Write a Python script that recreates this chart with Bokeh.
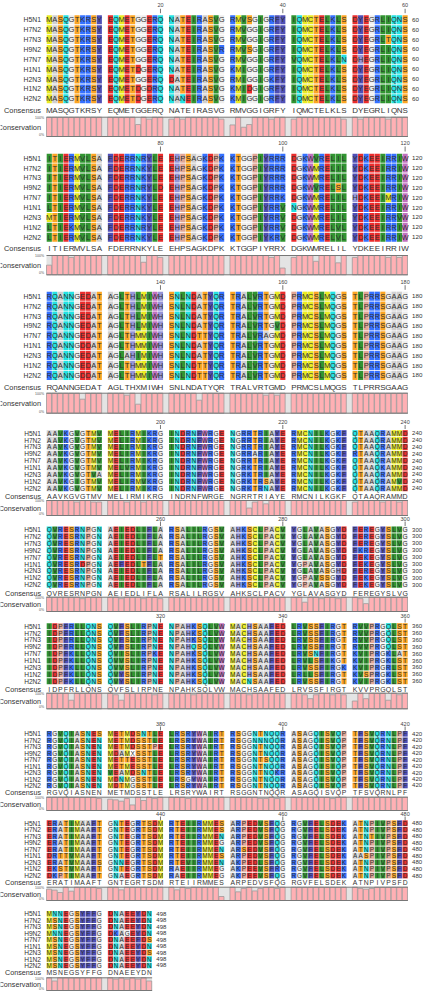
from bokeh.plotting import figure
from bokeh.models import Range1d
from bokeh.embed import file_html
from bokeh.resources import INLINE
from bokeh.core.properties import value

TAXA = ["H5N1", "H7N2", "H7N3", "H9N2", "H7N7", "H1N1", "H2N3", "H1N2", "H2N2"]

H5N1 = ("MASQGTKRSY EQMETGGERQ NATEIRASVG RMVSGIGRFY IQMCTELKLS DYEGRLIQNS "
        "ITIERMVLSA FDERRNRYLE EHPSAGKDPK KTGGPIYRRR DGKWVRELIL YDKEEIRRIW "
        "RQANNGEDAT AGLTHLMIWH SNLNDATYQR TRALVRTGMD PRMCSLMQGS TLPRRSGAAG "
        "AAVKGVGTMV MELIRMIKRG INDRNFWRGE NGRRTRIAYE RMCNILKGKF QTAAQRAMMD "
        "QVRESRNPGN AEIEDLIFLA RSALILRGSV AHKSCLPACV YGLAVASGYD FEREGYSLVG "
        "IDPFRLLQNS QVFSLIRPNE NPAHKSQLVW MACHSAAFED LRVSSFIRGT RVVPRGQLST "
        "RGVQIASNES METMDSNTLE LRSRYWAIRT RSGGNTNQQR ASAGQISVQP TFSVQRNLPF "
        "ERATIMAAFT GNTEGRTSDM RTEIIRMMES ARPEDVSFQG RGVFELSDEK ATNPIVPSFD "
        "MNNEGSYFFG DNAEEYDN")
H7N2 = ("MASQGTKRSY EQMETGGERQ NATEIRASVG RMVGGIGRFY IQMCTELKLS DYEGRLIQNS "
        "ITIERMVLSA FDERRNKYLE EHPSAGKDPK KTGGPIYRRR DGKWMRELIL YDKEEIRRIW "
        "RQANNGEDAT AGLTHLMIWH SNLNDATYQR TRALVRTGMD PRMCSLMQGS TLPRRSGAAG "
        "AAVKGVGTMV MELIRMIKRG INDRNFWRGE NGRRTRIAYE RMCNILKGKF QTAAQRAMMD "
        "QVRESRNPGN AEIEDLIFLA RSALILRGSV AHKSCLPACV YGLAVASGYD FEREGYSLVG "
        "IDPFRLLQNS QVFSLIRPNE NPAHKSQLVW MACHSAAFED LRVSSFIRGT RVVPRGQLST "
        "RGVQIASNEN METMDSSTLE LRSRYWAIRT RSGGNNNQQR ASAGQISVQP TFSVQRNLPF "
        "ERATIMAAFT GNTEGRTSDM RTEIIRMMES ARPEDVSFQG RGVFELSDEK ATNPIVPSFD "
        "MSNEGSYFFG DNAEEYDN")
H7N3 = ("MASQGTKRSY EQMETGGERQ NATEIRASVG RMVGGIGRFY IQMCTELKLS DYEGRLTQNS "
        "ITIERMVLSA FDERRNKYLE EHPSAGKDPK KTGGPIYRRR DGKWMRELIL YDKEEIRRIW "
        "RQANNGEDAT AGLTHLMIWH SNLNDATYQR TRALVRTGMD PRMCSLMQGS TLPRRSGAAG "
        "AAVKGVGTMV MELIRMIKRG INDRNFWRGE NGRRTRIAYE RMCNILKGKF QTAAQRAMMD "
        "QVRESRNPGN AEIEDLIFLA RSALILRGSV AHKSCLPACV YGLAVASGYD FEREGYSLVG "
        "IDPFRLLQNS QVFSLIRPNE NPAHKSQLVW MACHSAAFED LRVSSFIRGT RVVPRGQLST "
        "RGVQIASNEN METMDSSTPE LRSRYWAIRT RSGGNTNQQR ASAGQISVQP TFSVQRNLPF "
        "ERATIMAAFT GNTEGRTSDM RTEIIRMMEN ARPEDVSFQG RGVFELSDEK ATNTIVPSFD "
        "MSNEGSYFFG DNAEEYDN")
H9N2 = ("MASQGTKRSY EQMETGGERQ NATEIRASVR RMVSGIGRFY IQMCTELKLS DYEGRLIQNS "
        "ITIERMVLSA FDERRNRYLD EHPSAGKDPK KTGGPIYRRR DGKWVRELSL YDKEEIRRIW "
        "RQANNGEDAT AGLTHLMIWH SNLNDATYQR TRALVRTGVD PRMCSLMQGS TLPRRSGAAG "
        "AAVKGVGTMV MELIRMIKRG INDRNFWRGE NGRRARIAYE RMCNILKGKF RTAAQRAMMD "
        "QVRESRNPGN AEIEDLIFLA RSALILRGSV AHKSCLPACV YGLAVASGYD FKREGYSLVG "
        "IDPFRLLQNS QVFSLIRPNE NPAHQSQLVW MACHSAAFED LRVSSFIRGT RVVPRGQLST "
        "RGVQIASNEN MDAMXSSTLE LRSRYWAIRT RSGGNTNQQR ASAGQISVQP TFSVQRNLPF "
        "ERATIMAAFT GNTEGRTSDM RTEIIRMMEG ARPEDVSFQG RGVFELSDEK ATNPIVPSFD "
        "MNNEGSYFFG DKAGEYDN")
H7N7 = ("MASQGTKRSY EQMETGGERQ NATEIRASVG RMVGGIGRFY VQMCTELKLN DHEGRLIQNS "
        "ITIERMVLSA FDERRNKYLE EHPSAGKDPK KTGGPIYRRK DGKWMRELIL HDKEEIMRIW "
        "RQANNGEDAT AGLTHMMIWH SNLNDTTYQR TRALVRAGMD PRMCSLMQGS TLPRRSGAAG "
        "AAVKGVGTMV MELIRMIKRG INDRNFWRGE NGRRTRIAYE RMCNILKGKF QTAAQRAMMD "
        "QVRESRNPGN AEIEDLIFLT RSALILRGSV AHKSCLPACV YGLAVASGYD FEKEGYSLVG "
        "IDPFKLLQNS QVISLIRPKE NPAHKSQLVW MACHSAAFED LRVSNFIRGT KVIPRGKLAT "
        "RGVQIASNEN METTESSTLE LRSRYWAIRT RSGGNTSQQR ASAGQISVQP TFSVQRNLPF "
        "ERATIMAAFT GNTEGRTSDM RTEIIRMMEN ARSEDVSFQG RGVFELSDEK ATNPIVPSFD "
        "MSNEGSYFFG DNAEEFDS")
H1N1 = ("MASQGTKRSY EQMETDGERQ NATEIRASVG KMIGGIGRFY IQMCTELKLS DYEGRLIQNS "
        "LTIERMVLSA FDERRNKYLE EHPSAGKDPK KTGGPIYRRV NGKWMRELIL YDKEEIRRIW "
        "RQANNGDDAT AGLTHMMIWH SNLNDATYQR TRALVRTGMD PRMCSLMQGS TLPRRSGAAG "
        "AAVKGVGTMV MELVRMIKRG INDRNFWRGE NGRKTRIAYE RMCNILKGKF QTAAQKAMMD "
        "QVRESRDPGN AEFEDLTFLA RSALILRGSV AHKSCLPACV YGPAVASGYD FEKEGYSLVG "
        "IDPFKLLQNS QVVSLIRPNE NPAHKSQLVW MACHSAAFED LRVLSFIKGT KVIPRGKLST "
        "RGVQIASNEN METMESSTLE LRSRYWAIRT RSGGNTNQQR ASAGQISIQP TFSVQRNLPF "
        "DRTTVMAAFT GNTEGRTSDM RTEIIRMMES ARPEDVSFQG RGVFELSDEK AASPIVPSFD "
        "MSNEGSYFFG DNAEEYDN")
H2N3 = ("MASQGTKRSY EQMETGGERQ DATEIRASVG RMIGGIGKFY IQMCTELKLS DYEGRLIQNS "
        "MTIERMVLSA FDERRNKYLE EHPSAGKDPK KTGGPIYRRV DGKWMRELIL YDKEEIRRVW "
        "RQANNGEDAT AGLAHIMIWH SNLNDATYQR TRALVRTGMD PRMCSLMQGS TLPRRSGAAG "
        "AAVKGVGTVA MELIRMIKRG INDRNFWRGE NGRKTRIAYE RMCNILKGKF QTAAQRAMMD "
        "QVRESRNPGN AEIEDLIFLA RSALILRGSV AHKSCLPACV YGLAVASGHD FEREGYSLVG "
        "IDPFKLLQNS QVVSLIRPNE NPAHKSQLVW MACHSAAFED LRVSSFIRGK KVIPRGRLST "
        "RGVQIASNEN VEAMDSNTLE LRSRYWAIRT RSGGNTNQKR ASAGQISVQP TFSVQRNLPF "
        "ERATVMAAFS GNNEGRTSDM RTEVIRMMEN AKPEDLSFQG RGVFELSDEK ATNPIVPSFD "
        "MSNEGSYFFG DNAEEYDS")
H1N2 = ("MASQGTKRSY EQMETDGDRQ NATEIRASVG KMIDGIGRFY IQMCTELKLS DYEGRLIQNS "
        "LTIEKMVLSA FDERRNRYLE EHPSAGKDPK KTGGPIYRRV DGKWMRELVL YDKEEIRRIW "
        "RQANNGEDAT AGLTHMMIWH SNLNDTTYQR TRALVRTGMD PRMCSLMQGS TLPRRSGAAG "
        "AAVKGIGTMV MELIRMVKRG INDRNFWRGE NGRKTRSAYE RMCNILKGKF QTAAQRAMVD "
        "QVRESRNPGN AEIEDLIFLA RSALILRGSV AHKSCLPACV YGPAVSSGYD FEKEGYSLVG "
        "IDPFKLLQNS QVYSLIRPNE NPAHKSQLVW MACHSAAFED LRLLSFIRGT KVSPRGKLST "
        "RGVQIASNEN MDNMGSSTLE LRSGYWAIRT RSGGNTNQQR ASAGQISVQP TFSVQRNLPF "
        "EKSTVMAAFT GNTEGRTSDM RAEIIRMMEG AKPEEVSFRG RGVFELSDEK ATNPIVPSFD "
        "MSNEGSYFFG DNAEEYDN")
H2N2 = ("MASQGTKRSY EQMETDGERQ NANEIRASVG KMIGGIGRFY IQMCTELKLS DYEGRLIQNS "
        "LTIERMVLSA FDERRNKYLE EHPSAGKDPK KTGGPIYKRV DGKWMRELVL YDKEEIRRIW "
        "RQANNGDDAT AGLTHMMIWH SNLNDTTYQR TRALVRTGMD PRMCSLMQGS TLPRRSGAAG "
        "AAVKGVGTMV MELIRMIKRG INDRNFWRGE NGRKTRNAYE RMCNILKGKF QTAAQRAMMD "
        "QVRESRNPGN AEIEDLIFLA RSALILRGSV AHKSCLPACV YGPAVASGYD FEKEGYSLVG "
        "IDPFKLLQNS QVYSLIRPNE NPAHKSQLVW MACNSAAFED LRVSSFIRGT KVIPRGKLST "
        "RGVQIASNEN MDTMGSSTLE LRSRYWAIRT RSGGNTNQQR ASAGQISVQP TFSVQRNLPF "
        "DKPTIMAAFT GNAEGRTSDM RAEIIRMMEG AKPEEVSFQG RGVFELSDEK ATNPIVPSFD "
        "MSNEGSYFFG DNAEEYDN")
CONSENSUS = ("MASQGTKRSY EQMETGGERQ NATEIRASVG RMVGGIGRFY IQMCTELKLS DYEGRLIQNS "
             "ITIERMVLSA FDERRNKYLE EHPSAGKDPK KTGGPIYRRX DGKWMRELIL YDKEEIRRIW "
             "RQANNGEDAT AGLTHXMIWH SNLNDATYQR TRALVRTGMD PRMCSLMQGS TLPRRSGAAG "
             "AAVKGVGTMV MELIRMIKRG INDRNFWRGE NGRRTRIAYE RMCNILKGKF QTAAQRAMMD "
             "QVRESRNPGN AEIEDLIFLA RSALILRGSV AHKSCLPACV YGLAVASGYD FEREGYSLVG "
             "IDPFRLLQNS QVFSLIRPNE NPAHKSQLVW MACHSAAFED LRVSSFIRGT KVVPRGQLST "
             "RGVQIASNEN METMDSSTLE LRSRYWAIRT RSGGNTNQQR ASAGQISVQP TFSVQRNLPF "
             "ERATIMAAFT GNTEGRTSDM RTEIIRMMES ARPEDVSFQG RGVFELSDEK ATNPIVPSFD "
             "MSNEGSYFFG DNAEEYDN")
SEQS = [H5N1, H7N2, H7N3, H9N2, H7N7, H1N1, H2N3, H1N2, H2N2]

# conservation (%) per alignment column
CONS_1 = [100]*10 + [100,100,100,100,100,62,100,90,100,100] + [90,100,90,100,100,100,100,100,100,90] \
    + [60,100,48,62,100,100,100,90,100,100] + [90,100,100,100,100,100,100,100,100,90] + [100,90,100,100,100,100,90,100,100,100]
CONS_2 = [50,100,100,100,90,100,100,100,100,100] + [100,100,100,100,100,100,65,100,100,90] + [100]*10 \
    + [100,100,100,100,100,100,100,90,100,35] + [90,100,100,100,70,100,100,100,62,100] + [90,100,100,100,100,100,90,100,90,100]
CONS_3 = [100,100,100,100,100,100,70,100,100,100] + [100,100,100,90,100,45,100,100,100,100] + [100,100,100,100,100,65,100,100,100,100] \
    + [100,100,100,100,100,100,90,100,90,100] + [100]*10 + [100]*10
CONS_4 = [100,100,100,100,100,90,100,100,90,90] + [100,100,100,90,100,100,90,100,100,100] + [100]*10 \
    + [100,100,100,50,90,100,78,100,100,100] + [100]*10 + [90,100,100,100,100,90,100,100,90,100]
CONS_5 = [100,100,100,100,100,100,90,100,100,100] + [100,100,90,100,100,100,90,100,100,90] + [100]*10 + [100]*10 \
    + [100,100,65,100,100,90,100,100,90,100] + [100,90,55,100,100,100,100,100,100,100]
CONS_6 = [100,100,100,100,55,100,100,100,100,100] + [100,90,55,100,100,100,100,100,90,100] + [100,100,100,100,90,100,100,100,100,100] \
    + [100,100,100,90,100,100,100,100,100,100] + [100,100,90,65,90,100,100,90,100,90] + [50,100,65,100,100,100,55,100,90,100]
CONS_7 = [100,100,100,100,100,100,100,100,100,90] + [85,80,70,90,42,100,75,100,90,100] + [100,100,100,90,100,100,100,100,100,100] \
    + [100,100,100,100,100,90,90,100,90,100] + [100,100,100,100,100,100,100,90,100,100] + [100]*10
CONS_8 = [85,78,60,100,70,100,100,100,100,90] + [100,100,80,100,100,100,100,100,100,100] + [100,80,100,90,100,100,100,100,100,30] \
    + [100,65,90,100,72,90,100,100,90,100] + [100]*10 + [100,90,85,90,100,100,100,100,100,100]
CONS_9 = [100,75,100,100,100,100,100,100,100,100] + [100,90,100,90,100,90,100,75]
CONSERVATION = CONS_1 + CONS_2 + CONS_3 + CONS_4 + CONS_5 + CONS_6 + CONS_7 + CONS_8 + CONS_9

RASMOL = {"D": "#E60A0A", "E": "#E60A0A", "C": "#E6E600", "M": "#E6E600", "K": "#145AFF", "R": "#145AFF",
          "S": "#FA9600", "T": "#FA9600", "F": "#3232AA", "Y": "#3232AA", "N": "#00DCDC", "Q": "#00DCDC",
          "G": "#EBEBEB", "L": "#0F820F", "V": "#0F820F", "I": "#0F820F", "A": "#C8C8C8", "W": "#B45AB4",
          "H": "#8282D2", "P": "#DC9682", "X": "#FFFFFF"}

FONT = "Liberation Sans"
# block layout in page pixels: first row, row pitch, consensus row, bar top, bar bottom, number row, tick top, tick bottom,
# residue font size, name size, "Consensus" size, "Conservation" size, end number size
BLOCKS = [
    (19.3, 9.875, 110.3, 116.7, 136.0, 4.3, 8.3, 12.7, 7.6, 6.8, 7.4, 7.4, 6.2),
    (157.7, 9.875, 248.3, 255.0, 274.3, 142.0, 146.0, 151.0, 7.6, 6.8, 7.4, 7.4, 6.2),
    (295.7, 9.9, 386.7, 392.7, 412.7, 281.0, 284.7, 289.3, 7.6, 6.8, 7.4, 7.4, 6.2),
    (432.7, 6.875, 496.0, 500.0, 515.0, 421.7, 424.5, 428.5, 6.6, 6.6, 7.2, 7.2, 6.0),
    (529.0, 6.9, 592.7, 596.7, 611.0, 518.5, 521.0, 525.5, 6.6, 6.6, 7.2, 7.2, 6.0),
    (625.7, 6.875, 689.0, 692.7, 708.3, 615.0, 618.0, 622.0, 6.6, 6.6, 7.2, 7.2, 6.0),
    (733.3, 6.46, 792.3, 796.7, 810.0, 723.3, 726.0, 730.0, 6.4, 6.6, 7.2, 7.2, 6.0),
    (822.7, 6.54, 882.3, 886.7, 900.0, 813.3, 816.0, 820.0, 6.4, 6.6, 7.2, 7.2, 6.0),
    (913.3, 6.46, 972.3, 977.3, 990.0, 0, 0, 0, 6.4, 6.6, 7.2, 7.2, 6.0),
]
X0, PITCH, LABEL_X = 46.0, 5.56, 40.5

p = figure(width=424, height=992, x_range=Range1d(0, 424), y_range=Range1d(992, 0),
           x_axis_type=None, y_axis_type=None, toolbar_location=None, output_backend="svg",
           min_border=0, outline_line_color=None, background_fill_color="white",
           border_fill_color="white",
           styles={"position": "absolute", "left": "0px", "top": "0px"})

seqs = [s.replace(" ", "") for s in SEQS]
cons = CONSENSUS.replace(" ", "")


def text(xs, ys, labels, size, color="#2f2f2f", align="center"):
    p.text(xs, ys, text=labels, text_font=value(FONT), text_font_size=value(f"{size}px"),
           text_color=color, text_align=align, text_baseline="middle")


for b, (r0, rp, cy, bt, bb, ny, tt, tb, fs, fn, fc, fv, fe) in enumerate(BLOCKS):
    start = b * 60
    n = min(60, len(cons) - start)
    slots = [i + i // 10 for i in range(n)]
    end = start + n
    xr = X0 + (slots[-1] + 1) * PITCH

    l, r, t, bo, col, cx, cyy, ch = [], [], [], [], [], [], [], []
    for k, seq in enumerate(seqs):
        y = r0 + k * rp
        for i, s in enumerate(slots):
            a = seq[start + i]
            x = X0 + s * PITCH
            l.append(x + 0.2); r.append(x + PITCH - 0.2)
            t.append(y - rp / 2 + 0.4); bo.append(y + rp / 2 - 0.4)
            col.append(RASMOL[a]); cx.append(x + PITCH / 2); cyy.append(y); ch.append(a)
    p.quad(left=l, right=r, top=t, bottom=bo, fill_color=col, fill_alpha=0.86, line_color=None)
    text(cx, cyy, ch, fs)

    # taxon names and end numbers
    names_y = [r0 + k * rp for k in range(len(TAXA))]
    text([LABEL_X] * 9, names_y, TAXA, fn, "#333333", "right")
    text([xr + 4.2] * 9, names_y, [str(end)] * 9, fe, "#333333", "left")

    # consensus row
    text([X0 + s * PITCH + PITCH / 2 for s in slots], [cy] * n, list(cons[start:end]), fs + 0.4, "#333333")
    text([LABEL_X], [cy], ["Consensus"], fc, "#333333", "right")

    # ticks every 20 residues
    tick_i = [i for i in range(n) if (start + i + 1) % 20 == 0]
    if tick_i:
        tx = [X0 + slots[i] * PITCH + PITCH / 2 for i in tick_i]
        p.segment(tx, [tt] * len(tx), tx, [tb] * len(tx), line_color="#555555", line_width=0.8)
        text(tx, [ny] * len(tx), [str(start + i + 1) for i in tick_i], 5.5, "#444444")

    # conservation panel
    p.quad(left=[X0], right=[xr], top=[bt], bottom=[bb], fill_color="#E4E4E4", line_color=None)
    vals = CONSERVATION[start:end]
    h = bb - bt
    p.quad(left=[X0 + s * PITCH for s in slots],
           right=[X0 + s * PITCH + PITCH * 0.92 for s in slots],
           top=[bb - h * v / 100 for v in vals], bottom=[bb] * n,
           fill_color="#FFB0B4", line_color="#A09A9A", line_width=0.8)
    p.segment([X0, X0], [bt, bb], [xr, xr], [bt, bb], line_color="#777777", line_width=1)
    text([43.5], [bt + 0.8], ["100%"], 3.5, "#555555", "right")
    text([43.5], [bb - 1.5], ["0%"], 3.5, "#555555", "right")
    text([LABEL_X], [(bt + bb) / 2 + 0.5], ["Conservation"], fv, "#333333", "right")

open("out.html", "w").write(file_html(p, INLINE))
